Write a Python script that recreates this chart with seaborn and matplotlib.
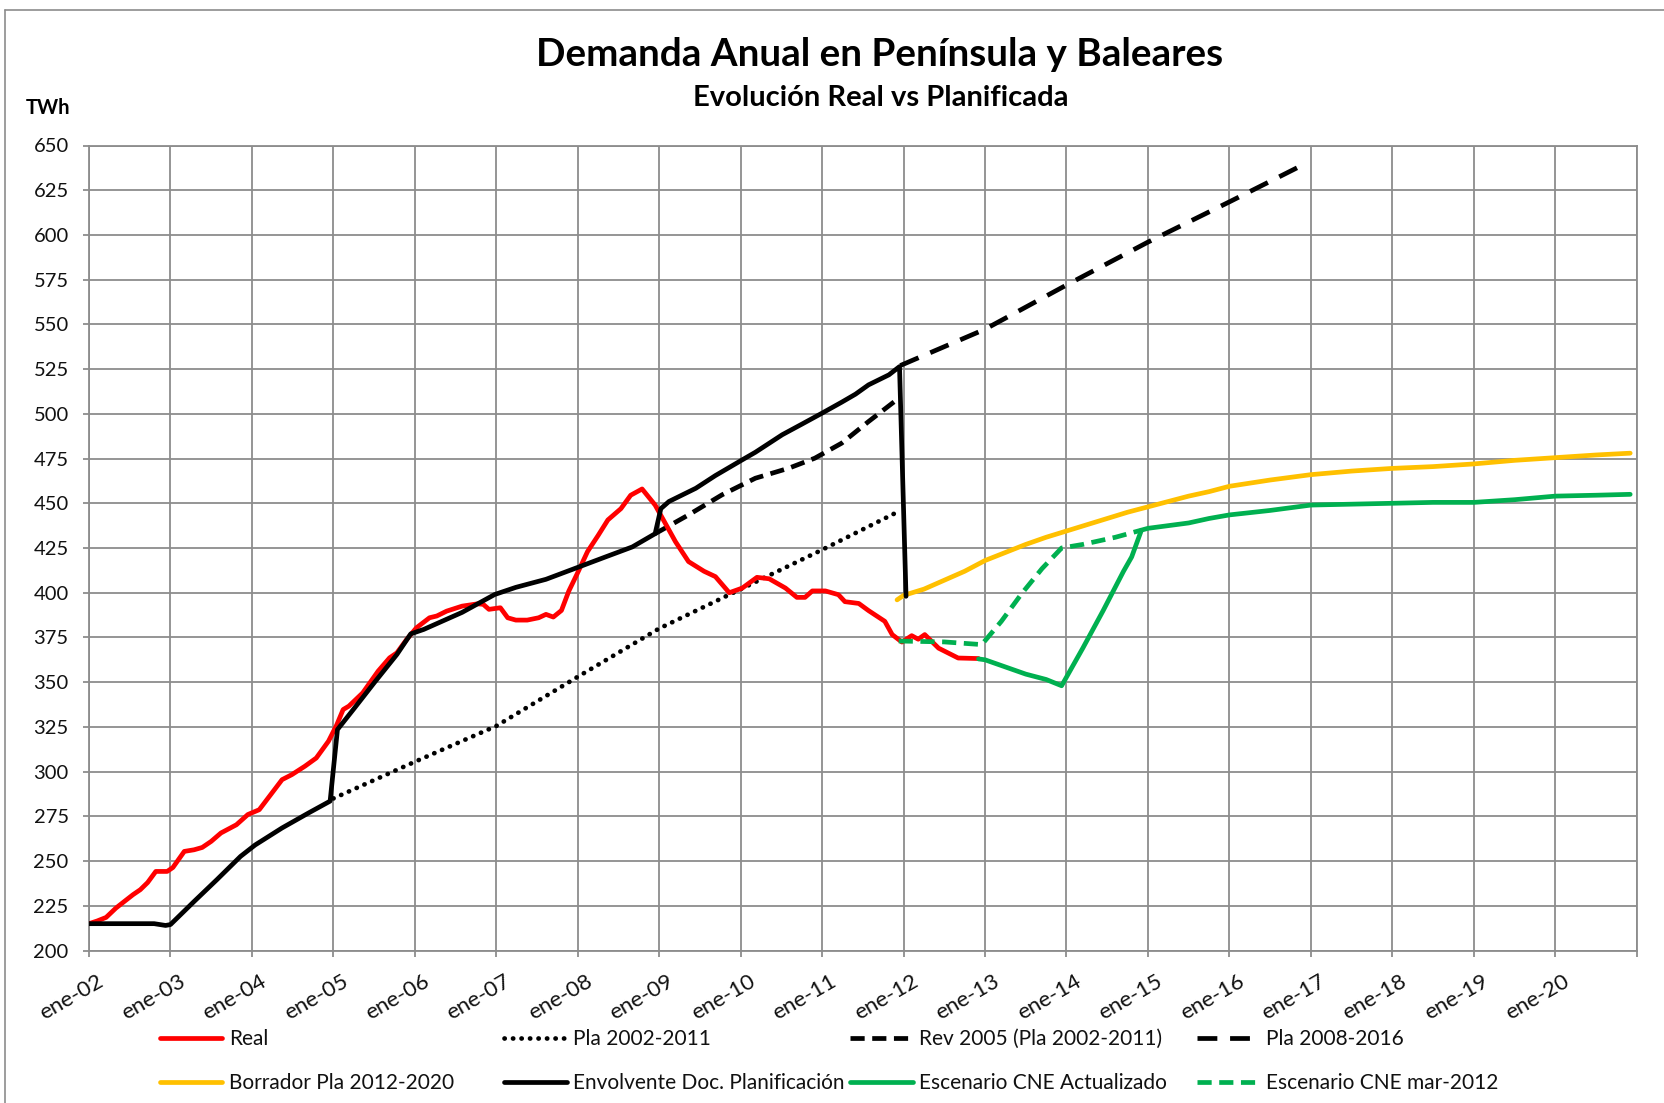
import numpy as np
import pandas as pd
import matplotlib
matplotlib.use("Agg")
import matplotlib.pyplot as plt
import matplotlib.transforms as mtransforms
from matplotlib.lines import Line2D
import seaborn as sns

# ---------------- data ----------------
year_ticks = list(range(2002, 2022))
tick_labels = ["ene-%02d" % (y % 100) for y in range(2002, 2021)] + [""]

real_t = [2002.0, 2002.1, 2002.21, 2002.33, 2002.45, 2002.54, 2002.63, 2002.72, 2002.82, 2002.96,
          2003.03, 2003.17, 2003.29, 2003.39, 2003.5, 2003.62, 2003.81, 2003.95, 2004.09, 2004.23,
          2004.37, 2004.49, 2004.65, 2004.79, 2004.94, 2005.04, 2005.12, 2005.19, 2005.36, 2005.55,
          2005.69, 2005.78, 2005.9, 2006.02, 2006.18, 2006.27, 2006.39, 2006.58, 2006.77, 2006.84,
          2006.91, 2007.05, 2007.14, 2007.24, 2007.38, 2007.52, 2007.61, 2007.7, 2007.8, 2007.89,
          2007.99, 2008.12, 2008.25, 2008.37, 2008.53, 2008.65, 2008.79, 2008.95, 2009.06, 2009.2,
          2009.36, 2009.55, 2009.69, 2009.86, 2010.02, 2010.2, 2010.35, 2010.55, 2010.69, 2010.79,
          2010.88, 2011.04, 2011.2, 2011.28, 2011.45, 2011.57, 2011.77, 2011.86, 2011.98, 2012.1,
          2012.18, 2012.26, 2012.43, 2012.67, 2012.92]
real_v = [215, 216.5, 218.5, 223.7, 228, 231.2, 234, 238, 244.2, 244.2,
          246.4, 255.4, 256.3, 257.6, 261, 265.7, 270.3, 276, 278.7, 287.1,
          295.5, 298.3, 303, 307.6, 317, 326, 334.7, 336.6, 344, 356.2,
          363.6, 366.4, 373.9, 380.4, 386, 387, 389.7, 392.5, 393.8, 393.5,
          390.7, 391.6, 386, 384.7, 384.7, 386, 387.9, 386.4, 390.1, 400.9,
          410.3, 423, 432, 440.7, 447, 454.5, 458, 449, 440, 428.5,
          417.4, 412, 409, 400, 402.6, 408.6, 407.8, 402.6, 397.4, 397.4,
          401, 401, 398.9, 395, 394, 390, 384, 376.6, 372.4, 376,
          374, 376.6, 369, 363.5, 363.2]

pla0211_t = [2005.0, 2006.0, 2007.0, 2008.0, 2009.0, 2010.0, 2011.0, 2011.92]
pla0211_v = [285, 305.5, 325.5, 353, 380, 402, 424, 445]

rev2005_t = [2008.95, 2009.36, 2009.77, 2010.18, 2010.59, 2010.91, 2011.24, 2011.57, 2011.92]
rev2005_v = [433, 443.5, 454.7, 464, 469.6, 475.2, 483.6, 495.7, 508]

pla0816_t = [2011.96, 2013.0, 2014.0, 2015.0, 2016.0, 2016.96]
pla0816_v = [527, 547.3, 572, 596, 618.5, 640.5]

borrador_t = [2011.92, 2012.0, 2012.25, 2012.5, 2012.75, 2013.0, 2013.25, 2013.5, 2013.75, 2014.0,
              2014.25, 2014.5, 2014.75, 2015.0, 2015.25, 2015.5, 2015.75, 2016.0, 2016.5, 2017.0,
              2017.5, 2018.0, 2018.5, 2019.0, 2019.5, 2020.0, 2020.5, 2020.92]
borrador_v = [396, 398.5, 402, 407, 412, 418, 422.5, 427, 431, 434.5,
              438, 441.5, 445, 448, 451, 454, 456.5, 459.5, 463, 466,
              468, 469.5, 470.5, 472, 474, 475.5, 477, 478]

env_t = [2002.0, 2002.8, 2002.94, 2003.0, 2003.29, 2003.57, 2003.86, 2004.04, 2004.37, 2004.7,
         2004.96, 2005.05, 2005.26, 2005.5, 2005.78, 2005.95, 2006.11, 2006.58, 2006.98, 2007.24,
         2007.61, 2007.99, 2008.34, 2008.67, 2008.95, 2009.02, 2009.12, 2009.45, 2009.69, 2010.02,
         2010.18, 2010.51, 2010.75, 2011.0, 2011.24, 2011.41, 2011.57, 2011.82, 2011.95, 2012.03]
env_v = [215, 215, 214, 214.5, 227.4, 239.6, 252.6, 259, 268.5, 277,
         283.5, 323.5, 335.6, 349.6, 365.5, 377, 379.5, 389, 399, 403,
         407.5, 414, 420, 425.6, 433, 447, 451, 458.4, 465.5, 474.3,
         478.5, 488.3, 494.2, 500.4, 506.5, 511, 516.2, 521.8, 526.4, 398]

cne_t = [2012.92, 2013.0, 2013.25, 2013.5, 2013.75, 2013.94, 2014.2, 2014.45, 2014.7, 2014.8,
         2014.92, 2015.0, 2015.25, 2015.5, 2015.75, 2016.0, 2016.5, 2017.0, 2017.5, 2018.0,
         2018.5, 2019.0, 2019.5, 2020.0, 2020.5, 2020.92]
cne_v = [363, 362.5, 358.5, 354.5, 351.5, 348, 369, 390, 412, 420,
         435, 436, 437.5, 439, 441.5, 443.5, 446, 449, 449.5, 450,
         450.5, 450.5, 452, 454, 454.5, 455]

cne12_t = [2011.94, 2012.5, 2012.96, 2013.2, 2013.45, 2013.7, 2013.94, 2014.2, 2014.6, 2014.92]
cne12_v = [373, 372.5, 371, 384, 399.5, 413.5, 425, 427, 431, 435]

# ---------------- style ----------------
RED = "#FF0000"
YEL = "#FFC000"
GRN = "#00B050"
BLK = "#000000"
GRID = "#8c8c8c"
LW = 3.4
DOT = (0, (0.05, 1.75))
SDASH = (0, (3.0, 1.6))
LDASH = (0, (4.2, 2.7))

sns.set_theme(style="white")
plt.rcParams['font.family'] = ['Lato', 'DejaVu Sans']

W, H = 1665, 1103
fig = plt.figure(figsize=(W / 100, H / 100), dpi=100)
ax = fig.add_axes([89 / W, 1 - 950.5 / H, (1636.7 - 89) / W, (950.5 - 145.5) / H])


def draw(t, v, color, ls, capstyle="butt", z=2):
    sns.lineplot(x=t, y=v, ax=ax, color=color, linestyle=ls, linewidth=LW,
                 estimator=None, sort=False, errorbar=None,
                 dash_capstyle=capstyle, solid_capstyle="round",
                 solid_joinstyle="round", zorder=z)


draw(pla0211_t, pla0211_v, BLK, DOT, capstyle="round", z=3)
draw(rev2005_t, rev2005_v, BLK, SDASH, z=3)
draw(pla0816_t, pla0816_v, BLK, LDASH, z=3)
draw(borrador_t, borrador_v, YEL, "-", z=3)
draw(real_t, real_v, RED, "-", z=4)
draw(env_t, env_v, BLK, "-", z=5)
draw(cne12_t, cne12_v, GRN, SDASH, z=6)
draw(cne_t, cne_v, GRN, "-", z=6)

ax.set_xlim(2002, 2021)
ax.set_ylim(200, 650)
ax.set_yticks(np.arange(200, 651, 25))
ax.set_xticks(year_ticks)
ax.set_xticklabels(tick_labels, rotation=30, ha="right", va="top",
                   rotation_mode="anchor")
ax.set_xlabel("")
ax.set_ylabel("")
ax.grid(True, color=GRID, linewidth=1.3)
ax.set_axisbelow(True)
for s in ax.spines.values():
    s.set_color(GRID)
    s.set_linewidth(1.3)
ax.tick_params(axis="both", which="major", bottom=True, left=True, direction="out",
               length=4.6, width=1.3, color=GRID, labelcolor="#111111")
ax.tick_params(axis="y", pad=10, labelsize=14.5)
ax.tick_params(axis="x", pad=10.5, labelsize=16)
offset = mtransforms.ScaledTranslation(8 / 100, 0, fig.dpi_scale_trans)
for lab in ax.get_xticklabels():
    lab.set_transform(lab.get_transform() + offset)

# titles
fig.text(880 / W, 1 - 55 / H, "Demanda Anual en Península y Baleares", ha="center",
         va="center", fontsize=27.8, fontweight="bold", color="black")
fig.text(881 / W, 1 - 98 / H, "Evolución Real vs Planificada", ha="center",
         va="center", fontsize=21, fontweight="bold", color="black")
fig.text(48 / W, 1 - 108 / H, "TWh", ha="center", va="center", fontsize=14.5,
         fontweight="bold", color="black")

# outer border
fig.add_artist(Line2D([5.5 / W, 1], [1 - 9.5 / H, 1 - 9.5 / H], color=GRID, lw=1.2,
                      transform=fig.transFigure))
fig.add_artist(Line2D([5.5 / W, 5.5 / W], [0, 1 - 9.5 / H], color=GRID, lw=1.2,
                      transform=fig.transFigure))

# legend: four columns
def h(color, ls, cap="butt"):
    return Line2D([], [], color=color, linestyle=ls, linewidth=LW,
                  dash_capstyle=cap, solid_capstyle="round")

columns = [
    ([h(RED, "-"), h(YEL, "-")], ["Real", "Borrador Pla 2012-2020"]),
    ([h(BLK, DOT, "round"), h(BLK, "-")], ["Pla 2002-2011", "Envolvente Doc. Planificación"]),
    ([h(BLK, SDASH), h(GRN, "-")], ["Rev 2005 (Pla 2002-2011)", "Escenario CNE Actualizado"]),
    ([h(BLK, LDASH), h(GRN, SDASH)], ["Pla 2008-2016", "Escenario CNE mar-2012"]),
]
xs = [160, 504, 850, 1197]
for (hs, ls_), x in zip(columns, xs):
    fig.legend(hs, ls_, loc="upper left", bbox_to_anchor=(x / W, 1 - 1029 / H),
               bbox_transform=fig.transFigure, frameon=False, fontsize=15,
               handlelength=3.0, handletextpad=0.3, labelspacing=1.15,
               borderpad=0, borderaxespad=0, labelcolor="#111111")

fig.savefig("out.png", dpi=100)
